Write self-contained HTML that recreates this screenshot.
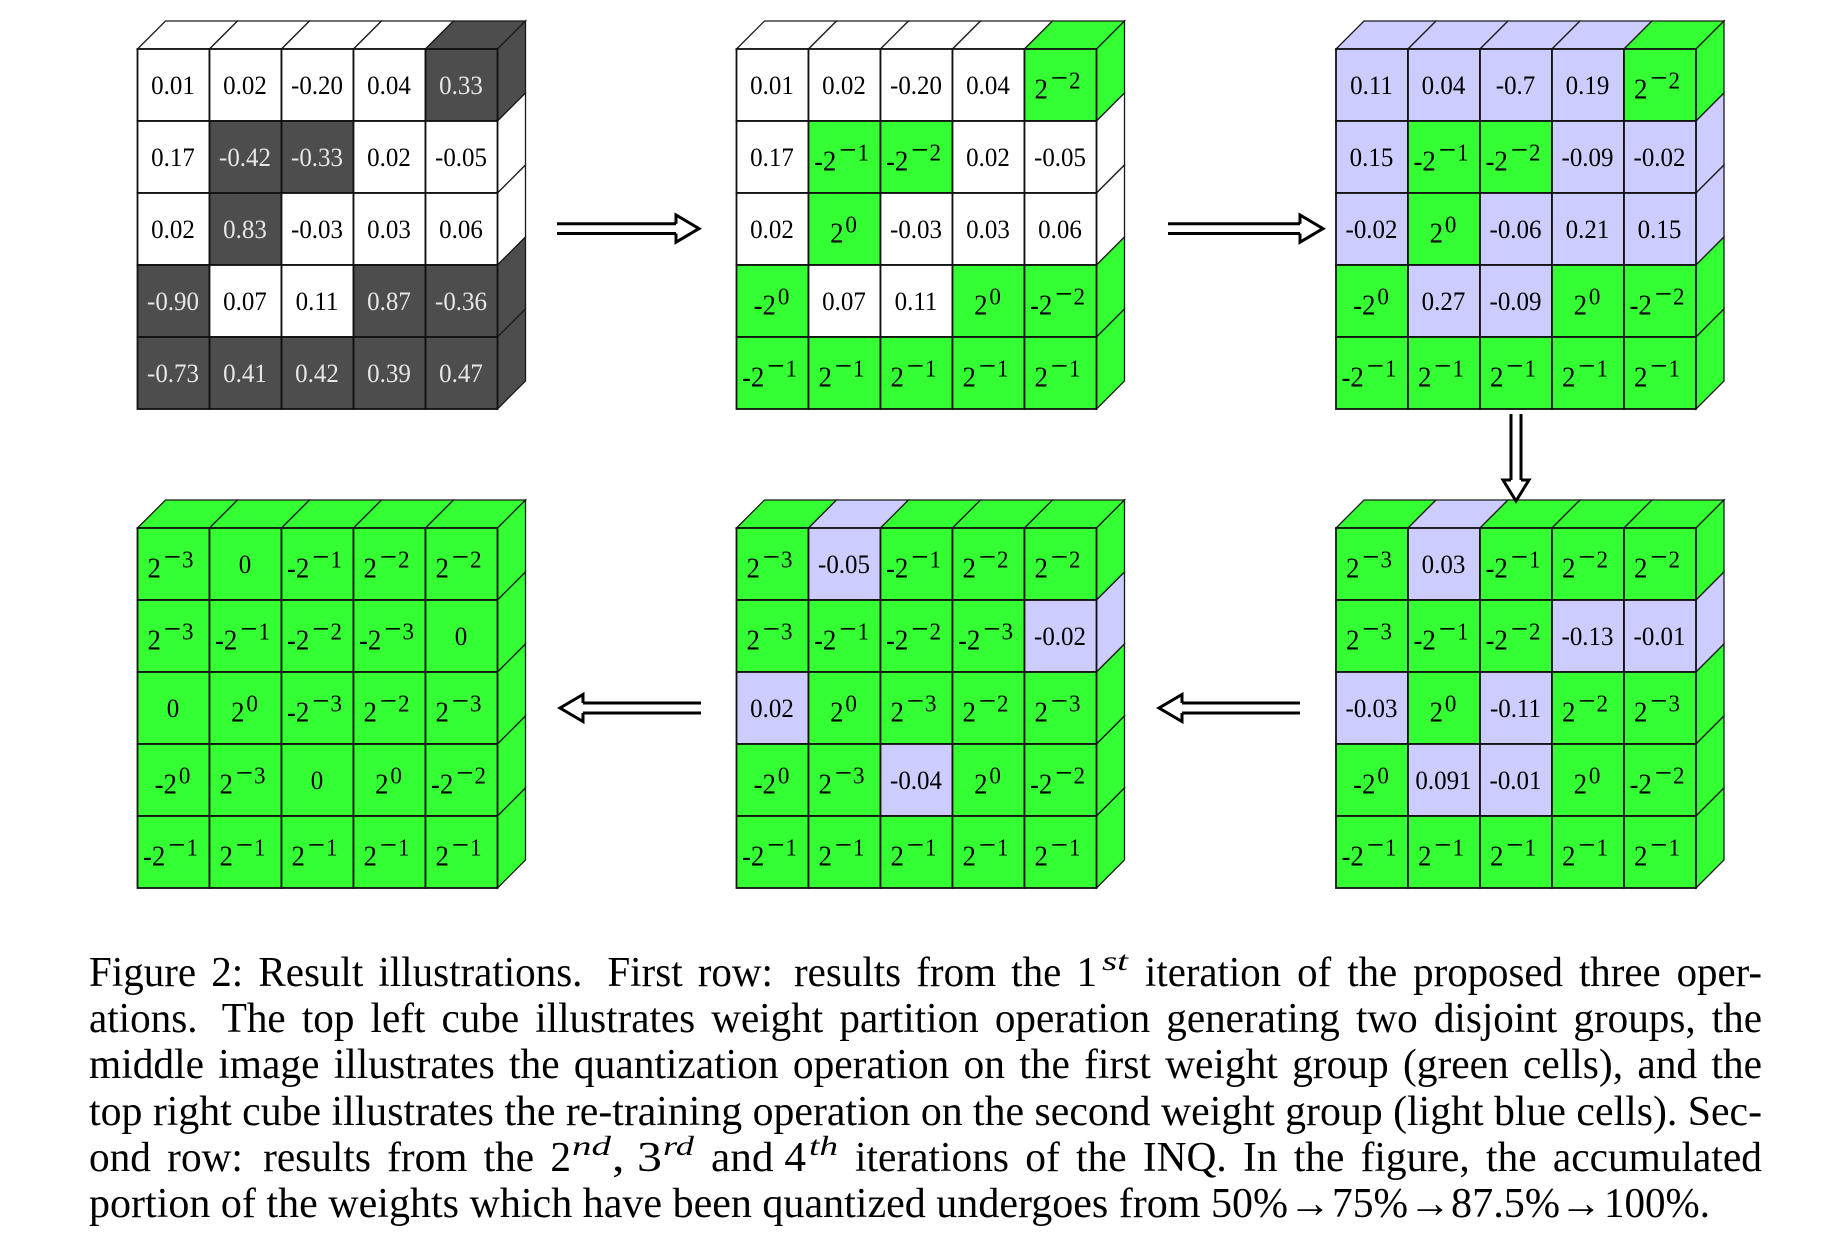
<!DOCTYPE html>
<html>
<head>
<meta charset="utf-8">
<title>Result illustrations</title>
<style>
html,body{margin:0;padding:0;background:#fff;width:1838px;height:1244px;overflow:hidden}
svg{display:block}
text{font-family:"Liberation Serif",serif;fill:#000}
.cap{font-size:42px}
.sup{font-size:27px;font-style:italic}
</style>
</head>
<body>
<svg id="fig" width="1838" height="1244" viewBox="0 0 1838 1244" xmlns="http://www.w3.org/2000/svg">
  <g id="cubes"></g>

  <g fill="#fff" stroke="#000" stroke-width="3">
    <line x1="557" y1="223.7" x2="676" y2="223.7"/><line x1="557" y1="233.5" x2="676" y2="233.5"/>
    <polyline points="676,223.7 676,215 699,228.6 676,242.2 676,233.5" stroke-linejoin="miter"/>
  </g>
  <g fill="#fff" stroke="#000" stroke-width="3">
    <line x1="1168" y1="223.7" x2="1300" y2="223.7"/><line x1="1168" y1="233.5" x2="1300" y2="233.5"/>
    <polyline points="1300,223.7 1300,215 1323,228.6 1300,242.2 1300,233.5"/>
  </g>
  <g fill="#fff" stroke="#000" stroke-width="3">
    <line x1="1511" y1="414" x2="1511" y2="480"/><line x1="1521" y1="414" x2="1521" y2="480"/>
    <polyline points="1511,480 1503,480 1516,501 1529,480 1521,480"/>
  </g>
  <g fill="#fff" stroke="#000" stroke-width="3">
    <line x1="1300" y1="703" x2="1182" y2="703"/><line x1="1300" y1="713" x2="1182" y2="713"/>
    <polyline points="1182,703 1182,694.5 1159,708 1182,721.5 1182,713"/>
  </g>
  <g fill="#fff" stroke="#000" stroke-width="3">
    <line x1="701" y1="703" x2="583" y2="703"/><line x1="701" y1="713" x2="583" y2="713"/>
    <polyline points="583,703 583,694.5 560,708 583,721.5 583,713"/>
  </g>

  <g>
    <text class="cap" x="89" y="986" textLength="1008" lengthAdjust="spacingAndGlyphs" word-spacing="5">Figure 2: Result illustrations. <tspan dx="10">First</tspan> row: <tspan dx="6">results</tspan> from the 1</text>
    <text class="sup" x="1102" y="970" textLength="26" lengthAdjust="spacingAndGlyphs">st</text>
    <text class="cap" x="1145" y="986" textLength="617" lengthAdjust="spacingAndGlyphs" word-spacing="6">iteration of the proposed three oper-</text>
    <text class="cap" x="89" y="1032" textLength="1673" lengthAdjust="spacingAndGlyphs" word-spacing="6">ations. <tspan dx="9">The</tspan> top left cube illustrates weight partition operation generating two disjoint groups, the</text>
    <text class="cap" x="89" y="1078" textLength="1673" lengthAdjust="spacingAndGlyphs" word-spacing="4">middle image illustrates the quantization operation on the first weight group (green cells), and the</text>
    <text class="cap" x="89" y="1125" textLength="1673" lengthAdjust="spacingAndGlyphs">top right cube illustrates the re-training operation on the second weight group (light blue cells). Sec-</text>
    <text class="cap" x="89" y="1171" textLength="482" lengthAdjust="spacingAndGlyphs" word-spacing="6">ond row: <tspan dx="4">results</tspan> from the 2</text>
    <text class="sup" x="572" y="1155" textLength="39" lengthAdjust="spacingAndGlyphs">nd</text>
    <text class="cap" x="612" y="1171" textLength="50" lengthAdjust="spacingAndGlyphs">, 3</text>
    <text class="sup" x="663" y="1155" textLength="31" lengthAdjust="spacingAndGlyphs">rd</text>
    <text class="cap" x="711" y="1171" textLength="95" lengthAdjust="spacingAndGlyphs">and 4</text>
    <text class="sup" x="809" y="1155" textLength="29" lengthAdjust="spacingAndGlyphs">th</text>
    <text class="cap" x="855" y="1171" textLength="907" lengthAdjust="spacingAndGlyphs" word-spacing="6">iterations of the INQ. In the figure, the accumulated</text>
    <text class="cap" x="89" y="1217" textLength="1199" lengthAdjust="spacingAndGlyphs">portion of the weights which have been quantized undergoes from 50%</text>
    <text class="cap" x="1289" y="1217" textLength="42" lengthAdjust="spacingAndGlyphs">→</text>
    <text class="cap" x="1332" y="1217" textLength="76" lengthAdjust="spacingAndGlyphs">75%</text>
    <text class="cap" x="1409" y="1217" textLength="42" lengthAdjust="spacingAndGlyphs">→</text>
    <text class="cap" x="1451" y="1217" textLength="109" lengthAdjust="spacingAndGlyphs">87.5%</text>
    <text class="cap" x="1560" y="1217" textLength="42" lengthAdjust="spacingAndGlyphs">→</text>
    <text class="cap" x="1604" y="1217" textLength="106" lengthAdjust="spacingAndGlyphs">100%.</text>
  </g>
</svg>
<script>
// Cell labels, row by row, for each of the six cubes.
const cubeTopLeftLabels = [
  "0.01 0.02 -0.20 0.04 0.33",
  "0.17 -0.42 -0.33 0.02 -0.05",
  "0.02 0.83 -0.03 0.03 0.06",
  "-0.90 0.07 0.11 0.87 -0.36",
  "-0.73 0.41 0.42 0.39 0.47"
];
const cubeTopMiddleLabels = [
  "0.01 0.02 -0.20 0.04 2^-2",
  "0.17 -2^-1 -2^-2 0.02 -0.05",
  "0.02 2^0 -0.03 0.03 0.06",
  "-2^0 0.07 0.11 2^0 -2^-2",
  "-2^-1 2^-1 2^-1 2^-1 2^-1"
];
const cubeTopRightLabels = [
  "0.11 0.04 -0.7 0.19 2^-2",
  "0.15 -2^-1 -2^-2 -0.09 -0.02",
  "-0.02 2^0 -0.06 0.21 0.15",
  "-2^0 0.27 -0.09 2^0 -2^-2",
  "-2^-1 2^-1 2^-1 2^-1 2^-1"
];
const cubeBottomRightLabels = [
  "2^-3 0.03 -2^-1 2^-2 2^-2",
  "2^-3 -2^-1 -2^-2 -0.13 -0.01",
  "-0.03 2^0 -0.11 2^-2 2^-3",
  "-2^0 0.091 -0.01 2^0 -2^-2",
  "-2^-1 2^-1 2^-1 2^-1 2^-1"
];
const cubeBottomMiddleLabels = [
  "2^-3 -0.05 -2^-1 2^-2 2^-2",
  "2^-3 -2^-1 -2^-2 -2^-3 -0.02",
  "0.02 2^0 2^-3 2^-2 2^-3",
  "-2^0 2^-3 -0.04 2^0 -2^-2",
  "-2^-1 2^-1 2^-1 2^-1 2^-1"
];
const cubeBottomLeftLabels = [
  "2^-3 0 -2^-1 2^-2 2^-2",
  "2^-3 -2^-1 -2^-2 -2^-3 0",
  "0 2^0 -2^-3 2^-2 2^-3",
  "-2^0 2^-3 0 2^0 -2^-2",
  "-2^-1 2^-1 2^-1 2^-1 2^-1"
];

// Cell states: w = white, d = dark (partition), g = green (quantized), b = light blue (re-trained).
const cubeTopLeftStates = ["wwwwd","wddww","wdwww","dwwdd","ddddd"];
const cubeTopMiddleStates = ["wwwwg","wggww","wgwww","gwwgg","ggggg"];
const cubeTopRightStates = ["bbbbg","bggbb","bgbbb","gbbgg","ggggg"];
const cubeBottomRightStates = ["gbggg","gggbb","bgbgg","gbbgg","ggggg"];
const cubeBottomMiddleStates = ["gbggg","ggggb","bgggg","ggbgg","ggggg"];
const cubeBottomLeftStates = ["ggggg","ggggg","ggggg","ggggg","ggggg"];

const NS = "http://www.w3.org/2000/svg";
const stateFill = {w:"#ffffff", d:"#4d4d4d", g:"#33ff33", b:"#ccccff"};
const cellSize = 72, depth = 28;

function svgEl(tag, attrs, parent) {
  const el = document.createElementNS(NS, tag);
  for (const k in attrs) el.setAttribute(k, attrs[k]);
  parent.appendChild(el);
  return el;
}

function drawLabel(parent, cx, cy, label, color) {
  const m = label.match(/^(-?)2\^(-?)(\d)$/);
  const shift = m && m[2] ? -3 : (m ? -1 : -0.5);
  const t = svgEl("text", {transform:"translate(" + (cx + shift) + "," + cy + ") scale(.96,1)", "text-anchor":"middle", "font-size":"26"}, parent);
  
  
  t.style.fill = color;
  if (!m) {
    t.setAttribute("y", "9.2");
    t.textContent = label;
    return;
  }
  t.setAttribute("y", "13.5");
  const base = svgEl("tspan", {"font-size":"28"}, t);
  base.textContent = m[1] + "2";
  if (m[2]) {
    const minus = svgEl("tspan", {dy:"-10", dx:"3", "font-size":"32"}, t);
    minus.textContent = "\u2212";
    const expNeg = svgEl("tspan", {dx:"1", "font-size":"24"}, t);
    expNeg.textContent = m[3];
  } else {
    const exp = svgEl("tspan", {dy:"-10", dx:"2", "font-size":"24"}, t);
    exp.textContent = m[3];
  }
}

function drawCube(name, x0, y0, labels, states) {
  const root = document.getElementById("cubes");
  const g = svgEl("g", {}, root);
  
  
  const n = labels.length;
  // top faces follow the first row, side faces follow the last column
  for (let c = 0; c < n; c++) {
    const x = x0 + c * cellSize;
    const top = svgEl("polygon", {
      points: x + "," + y0 + " " + (x + depth) + "," + (y0 - depth) + " " + (x + cellSize + depth) + "," + (y0 - depth) + " " + (x + cellSize) + "," + y0,
      fill: stateFill[states[0][c]], stroke: "#1a1a1a", "stroke-width": "1.3"
    }, g);
    
    
  }
  const xr = x0 + n * cellSize;
  for (let r = 0; r < n; r++) {
    const y = y0 + r * cellSize;
    const side = svgEl("polygon", {
      points: xr + "," + y + " " + (xr + depth) + "," + (y - depth) + " " + (xr + depth) + "," + (y + cellSize - depth) + " " + xr + "," + (y + cellSize),
      fill: stateFill[states[r][n - 1]], stroke: "#1a1a1a", "stroke-width": "1.3"
    }, g);
    
    
  }
  for (let r = 0; r < n; r++) {
    for (let c = 0; c < n; c++) {
      const x = x0 + c * cellSize, y = y0 + r * cellSize;
      const cell = svgEl("rect", {x:x, y:y, width:cellSize, height:cellSize, fill:stateFill[states[r][c]], stroke:"#111", "stroke-width":"1.8"}, g);
      
      
    }
  }
  for (let r = 0; r < n; r++) {
    const cols = labels[r].split(" ");
    for (let c = 0; c < n; c++) {
      const cx = x0 + (c + 0.5) * cellSize, cy = y0 + (r + 0.5) * cellSize;
      drawLabel(g, cx, cy, cols[c], states[r][c] === "d" ? "#e6e6e6" : "#000");
    }
  }
}

drawCube("cube-original-weights", 137.5, 49, cubeTopLeftLabels, cubeTopLeftStates);
drawCube("cube-quantized-first-group", 736.5, 49, cubeTopMiddleLabels, cubeTopMiddleStates);
drawCube("cube-retrained-second-group", 1336, 49, cubeTopRightLabels, cubeTopRightStates);
drawCube("cube-iteration-2", 1336, 528, cubeBottomRightLabels, cubeBottomRightStates);
drawCube("cube-iteration-3", 736.5, 528, cubeBottomMiddleLabels, cubeBottomMiddleStates);
drawCube("cube-iteration-4", 137.5, 528, cubeBottomLeftLabels, cubeBottomLeftStates);
</script>
</body>
</html>
